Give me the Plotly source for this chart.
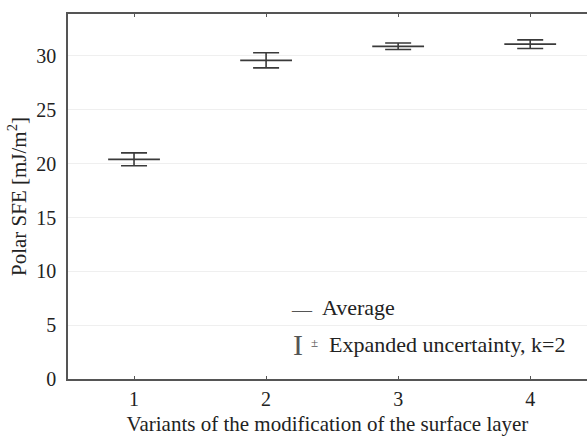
import plotly.graph_objects as go

variants = [1, 2, 3, 4]
means = [20.4, 29.6, 30.9, 31.1]
uncert = [0.6, 0.7, 0.3, 0.4]
x_ticks = [1, 2, 3, 4]
y_ticks = [0, 5, 10, 15, 20, 25, 30]

FONT = "Liberation Serif, Times New Roman, serif"
INK = "#3a3a3a"
TXT = "#222"

fig = go.Figure()
# error bars (expanded uncertainty)
fig.add_trace(go.Scatter(
    x=variants, y=means, mode="markers",
    marker=dict(size=0.1, color="rgba(0,0,0,0)"),
    error_y=dict(type="data", array=uncert, visible=True, color=INK,
                 thickness=1.6, width=13),
    showlegend=False, hoverinfo="skip"))
# averages
fig.add_trace(go.Scatter(
    x=variants, y=means, mode="markers",
    marker=dict(symbol="line-ew", size=37, color=INK,
                line=dict(width=1.8, color=INK)),
    showlegend=False))

# legend drawn as text
PW = 519.0
def px(xp):
    return (xp - 68) / PW

fig.add_annotation(xref="paper", yref="y", x=px(289), y=6.4, xanchor="left", yanchor="middle",
                   showarrow=False, text="—", font=dict(family=FONT, size=20, color="#555"))
fig.add_annotation(xref="paper", yref="y", x=px(320), y=6.6, xanchor="left", yanchor="middle",
                   showarrow=False, text="Average", font=dict(family=FONT, size=22, color=TXT))
fig.add_annotation(xref="paper", yref="y", x=px(291), y=3.2, xanchor="left", yanchor="middle",
                   showarrow=False, text="I", font=dict(family=FONT, size=30, color="#555"))
fig.add_annotation(xref="paper", yref="y", x=px(309), y=3.4, xanchor="left", yanchor="middle",
                   showarrow=False, text="±", font=dict(family=FONT, size=13, color="#555"))
fig.add_annotation(xref="paper", yref="y", x=px(327), y=3.2, xanchor="left", yanchor="middle",
                   showarrow=False, text="Expanded uncertainty, k=2",
                   font=dict(family=FONT, size=22, color=TXT))

fig.update_layout(
    width=587, height=442,
    margin=dict(l=68, r=0, t=14, b=63),
    paper_bgcolor="white", plot_bgcolor="white",
    font=dict(family=FONT, size=20, color=TXT),
    xaxis=dict(range=[0.5, 4.43], tickvals=x_ticks, ticktext=[str(v) for v in x_ticks],
               showgrid=False, zeroline=False, showline=True, linecolor="#555",
               linewidth=1.5, mirror="ticks", ticks="inside", ticklen=3,
               tickcolor="#555", tickfont=dict(size=20),
               title=dict(text="Variants of the modification of the surface layer",
                          font=dict(size=21), standoff=8),
               ticklabelstandoff=1),
    yaxis=dict(range=[0, 33.9], tickvals=y_ticks, showgrid=True, gridcolor="#efefef",
               gridwidth=1, zeroline=False, showline=True, linecolor="#555",
               linewidth=1.5, ticks="", tickfont=dict(size=20),
               title=dict(text="Polar SFE [mJ/m<sup>2</sup>]", font=dict(size=21),
                          standoff=4),
               ticklabelstandoff=6),
)

fig.write_html("out.html")
